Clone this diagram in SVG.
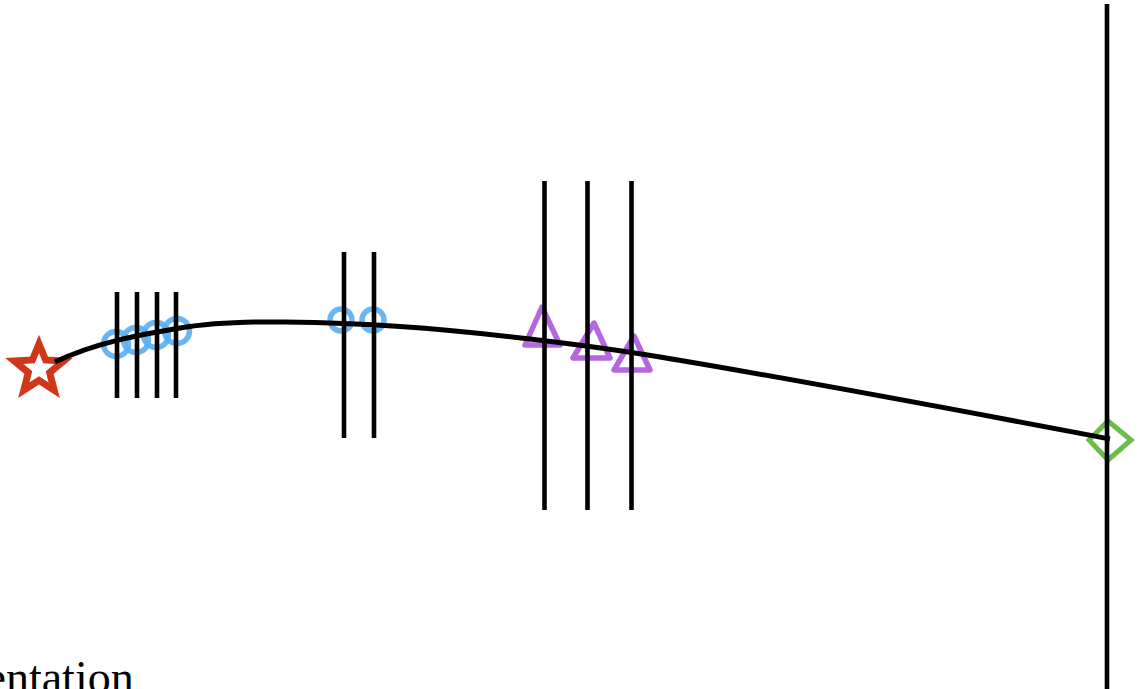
<svg xmlns="http://www.w3.org/2000/svg" width="1137" height="689" viewBox="0 0 1137 689">
<style>
.bar{stroke:#000;stroke-width:4.6;fill:none}
.traj{stroke:#000;stroke-width:5;fill:none;stroke-linecap:butt}
.circ{fill:none;stroke:#5aaef2;stroke-width:5.5;opacity:0.9}
.tri{fill:none;stroke:#b567e0;stroke-width:5.5;stroke-linejoin:round}
.star{fill:#fff;stroke:#d0361a;stroke-width:7;stroke-linejoin:miter}
.dia{fill:none;stroke:#6cbc48;stroke-width:5}
.lbl{font-family:"Liberation Serif","Times New Roman",serif;font-size:46px;fill:#000}
</style>
<rect width="1137" height="689" fill="#fff"/>
<g id="markers">
  <g id="start"><polygon class="star" points="39,344 45.6,360 63.7,361 49.7,372.6 54.2,390.3 39,380.4 23.8,390.3 28.3,372.6 14.3,361 32.4,360"/></g>
  <g id="circles-1">
    <circle class="circ" cx="116" cy="344" r="12.5"/>
    <circle class="circ" cx="136" cy="340" r="12.5"/>
    <circle class="circ" cx="156" cy="335" r="12.5"/>
    <circle class="circ" cx="177" cy="331" r="12.5"/>
  </g>
  <g id="circles-2">
    <circle class="circ" cx="341" cy="320" r="11"/>
    <circle class="circ" cx="373" cy="320" r="11"/>
  </g>
  <g id="triangles">
    <polygon class="tri" points="542,307 525,345 560,345"/>
    <polygon class="tri" points="594,323 573,358 610,358"/>
    <polygon class="tri" points="634,336 614,370 650,370"/>
  </g>
  <g id="end"><polygon class="dia" points="1108,421 1131,440 1108,460 1089,440"/></g>
</g>
<g id="bars">
  <line class="bar" x1="117" y1="292" x2="117" y2="398"/>
  <line class="bar" x1="137" y1="292" x2="137" y2="398"/>
  <line class="bar" x1="157" y1="292" x2="157" y2="398"/>
  <line class="bar" x1="176" y1="292" x2="176" y2="398"/>
  <line class="bar" x1="344" y1="252" x2="344" y2="438"/>
  <line class="bar" x1="374" y1="252" x2="374" y2="438"/>
  <line class="bar" x1="544.5" y1="181" x2="544.5" y2="510"/>
  <line class="bar" x1="587.5" y1="181" x2="587.5" y2="510"/>
  <line class="bar" x1="631.5" y1="181" x2="631.5" y2="510"/>
  <line class="bar" x1="1107" y1="4" x2="1107" y2="689"/>
</g>
<g id="connectors">
  <path class="traj" d="M55,362 C96.7,342 141.7,334.6 180,328 C212,322.5 250,321.5 285,322 C321.7,322.5 359.2,323.75 400,326.5 C440.8,329.25 486.7,333.9 530,339 C573.3,344.1 616.7,349.8 660,357 C809,381.7 961,410.7 1110,439"/>
</g>
<text class="lbl" x="-14.5" y="693">entation</text>
</svg>
